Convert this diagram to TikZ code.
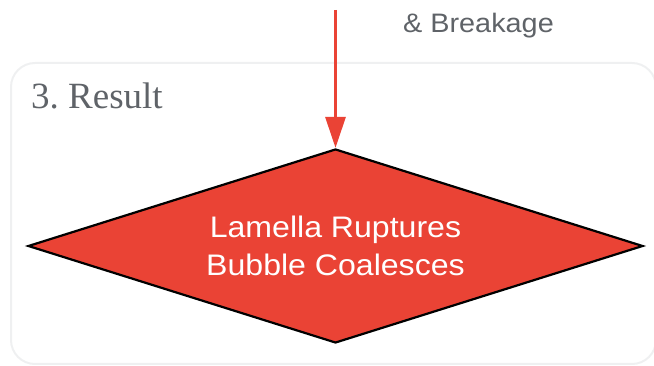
\documentclass[tikz,border=0pt]{standalone}
\usepackage{fontspec}
\setmainfont{Liberation Sans}
\newfontfamily\stretchsans[FakeStretch=1.08]{Liberation Sans}
\newfontfamily\titleserif{Liberation Serif}
\usetikzlibrary{arrows.meta,shapes.geometric}
\definecolor{gred}{HTML}{EA4335}
\definecolor{ggray}{HTML}{5F6368}
\definecolor{boxline}{HTML}{EFF0F1}
\tikzset{
  clusterbox/.style={draw=boxline, line width=2pt, rounded corners=24pt},
  resultdia/.style={diamond, draw=black, line width=2.2pt, fill=gred, text=white,
    shape aspect=3.1701, minimum width=615pt, minimum height=194pt, inner sep=0pt, align=center,
    font=\stretchsans\fontsize{29.7}{37.4}\selectfont},
  flowarrow/.style={draw=gred, line width=3pt, -{Triangle[length=31pt,width=20pt]}},
  edgelabel/.style={text=ggray, font=\stretchsans\fontsize{26.7}{30}\selectfont, inner sep=0pt},
  clustertitle/.style={text=ggray, font=\titleserif\fontsize{37}{40}\selectfont, inner sep=0pt}
}
\begin{document}
\begin{tikzpicture}[x=1pt,y=-1pt]
  \useasboundingbox (0,0) rectangle (654,366);
  \node[clusterbox, minimum width=645pt, minimum height=301pt, anchor=north west] (cluster) at (10,62) {};
  \node[clustertitle, anchor=base west] (title) at (31,108.3) {3.\ Result};
  \node[resultdia] (dia) at (335.5,246) {Lamella Ruptures\\Bubble Coalesces};
  \coordinate (src) at (335.5,10);
  \draw[flowarrow] (src) -- (dia.north);
  \node[edgelabel, anchor=base] (lbl) at (478.5,32.3) {\& Breakage};
\end{tikzpicture}
\end{document}
